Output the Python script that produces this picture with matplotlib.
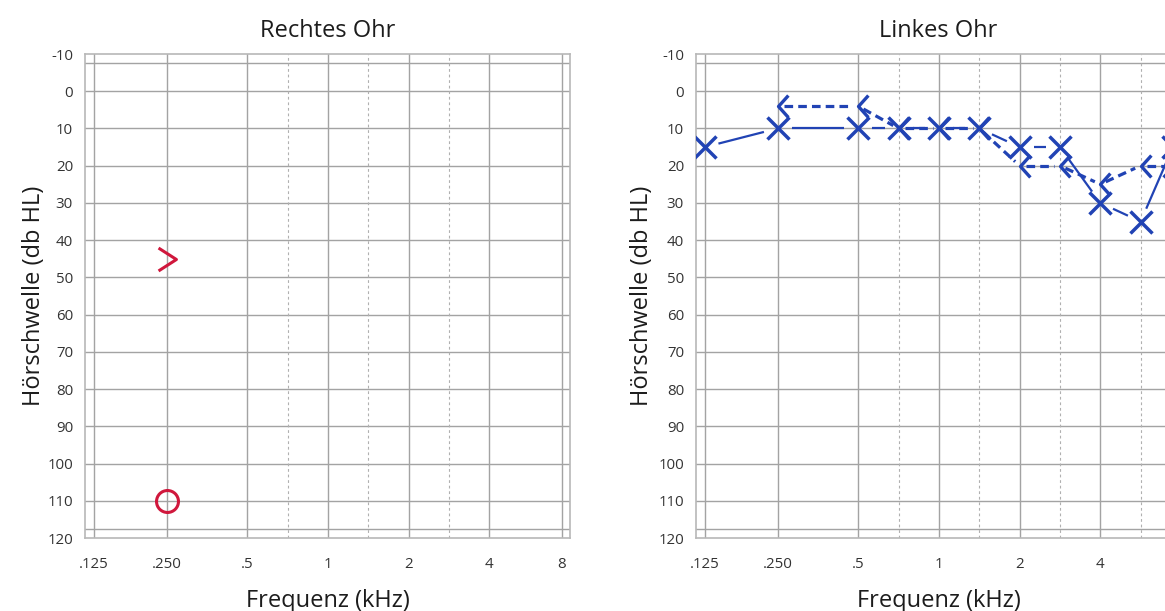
import numpy as np
import matplotlib.pyplot as plt
from matplotlib.path import Path

plt.rcParams['font.family'] = ['Open Sans', 'DejaVu Sans']
plt.rcParams['axes.unicode_minus'] = False


#
# Data (frequency in kHz, threshold in dB HL)
#
freq_ticks = [0.125, 0.25, 0.5, 1, 2, 4, 8]
freq_tick_labels = [".125", ".250", ".5", "1", "2", "4", "8"]
db_ticks = [-10, 0, 10, 20, 30, 40, 50, 60, 70, 80, 90, 100, 110, 120]

# Rechtes Ohr
right_ac_freq = [0.25]
right_ac_db = [110]
right_bc_freq = [0.25]
right_bc_db = [45]

# Linkes Ohr
left_ac_freq = [0.125, 0.25, 0.5, 0.75, 1, 1.5, 2, 3, 4, 6, 8]
left_ac_db = [15, 10, 10, 10, 10, 10, 15, 15, 30, 35, 15]
left_bc_freq = [0.25, 0.5, 0.75, 1, 1.5, 2, 3, 4, 6, 8]
left_bc_db = [4, 4, 10, 10, 10, 20, 20, 25, 20, 20]
left_bc_symbol = ["<", "<", "<", "<", "<", "<", "<", "<", "<", ">"]


#
# Audiogram frequency axis: one slot per octave, half octaves in between,
# the outermost octaves pulled in a little
#
freq_slot = {0.125: -0.9, 0.25: 0.0, 0.5: 1.0, 0.75: 1.5, 1: 2.0, 1.5: 2.5,
             2: 3.0, 3: 3.5, 4: 4.0, 6: 4.5, 8: 4.9}


def xpos(freqs):
    return np.array([freq_slot[f] for f in np.atleast_1d(freqs)], dtype=float)


blue = "#2143b4"
red = "#d0173c"
grid_col = "#a3a3a3"
text_col = "#1c1c1c"

codes = [Path.MOVETO, Path.LINETO, Path.LINETO]
chevron = {
    "<": Path([(0.9, 1), (0, 0), (0.9, -1)], codes),
    ">": Path([(-0.9, 1), (0, 0), (-0.9, -1)], codes),
}
wide_right = Path([(-0.78, 1), (0.78, 0), (-0.78, -1)], codes)


def setup(ax, title, half_octaves, tick_labels):
    ax.set_xlim(-1.01, 5.0)
    ax.set_ylim(120, -10)
    for y in [-7.5] + list(range(0, 111, 10)) + [117.5]:
        ax.axhline(y, color=grid_col, lw=1.0, zorder=1)
    for x in xpos(freq_ticks):
        ax.axvline(x, color=grid_col, lw=1.0, zorder=1)
    for x in xpos(half_octaves):
        ax.axvline(x, color="#b0b0b0", lw=0.8, dashes=(2.5, 2.5), zorder=1)
    ax.set_xticks(xpos(freq_ticks), tick_labels)
    ax.set_yticks(db_ticks)
    ax.tick_params(length=0, labelsize=10.8, labelcolor="#333333")
    ax.tick_params(axis="x", pad=14)
    ax.tick_params(axis="y", pad=8.6)
    for s in ax.spines.values():
        s.set_color("#b8b8b8")
        s.set_linewidth(1.2)
    ax.set_title(title, fontsize=17, pad=12.5, color=text_col)
    ax.set_xlabel("Frequenz (kHz)", fontsize=17, color=text_col)
    ax.set_ylabel("Hörschwelle (db HL)", fontsize=17, color=text_col)
    ax.xaxis.set_label_coords(0.5, -0.105)


def gapped(ax, xs, ys, gap_px, **kw):
    # connect the points, leaving a little space next to each symbol
    pts = ax.transData.transform(np.column_stack([xs, ys]))
    inv = ax.transData.inverted()
    for p0, p1 in zip(pts[:-1], pts[1:]):
        d = p1 - p0
        n = np.hypot(*d)
        if n <= 2 * gap_px:
            continue
        u = d / n
        seg = inv.transform([p0 + u * gap_px, p1 - u * gap_px])
        ax.plot(seg[:, 0], seg[:, 1], **kw)


fig = plt.figure(figsize=(11.65, 6.11), dpi=100)
ax_r = fig.add_axes([85 / 1165, 1 - 538 / 611, 485 / 1165, 484 / 611])
ax_l = fig.add_axes([696 / 1165, 1 - 538 / 611, 485 / 1165, 484 / 611])

setup(ax_r, "Rechtes Ohr", [0.75, 1.5, 3], freq_tick_labels)
# the 8 kHz label of the second chart falls outside the picture
setup(ax_l, "Linkes Ohr", [0.75, 1.5, 3, 6], freq_tick_labels[:-1] + [""])
ax_r.yaxis.set_label_coords(-0.080, 0.5)
ax_l.yaxis.set_label_coords(-0.086, 0.5)

#
# Rechtes Ohr
#
ax_r.plot(xpos(right_ac_freq), right_ac_db, ls="none", marker="o", ms=15.8,
          mew=2.2, mec=red, mfc="none", zorder=4)
ax_r.plot(xpos(right_bc_freq), right_bc_db, ls="none", marker=wide_right,
          ms=16.5, mew=2.2, mec=red, mfc="none", zorder=4)

#
# Linkes Ohr
#
lx = xpos(left_ac_freq)
bx = xpos(left_bc_freq)
gapped(ax_l, lx, left_ac_db, 14, color=blue, lw=1.6, zorder=3,
       solid_capstyle="butt")
gapped(ax_l, bx, left_bc_db, 6, color=blue, lw=2.3, dashes=(2.7, 1.6),
       zorder=3)
ax_l.plot(lx, left_ac_db, ls="none", marker="x", ms=15.8, mew=2.5,
          mec=blue, zorder=4)
for x, y, s in zip(bx, left_bc_db, left_bc_symbol):
    ax_l.plot([x], [y], ls="none", marker=chevron[s], ms=15.8, mew=2.4,
              mec=blue, mfc="none", zorder=4)

fig.savefig("out.png", dpi=100)
